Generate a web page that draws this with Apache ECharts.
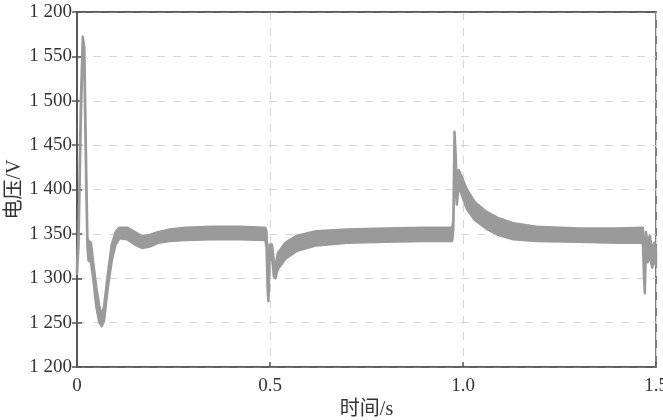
<!DOCTYPE html>
<html>
<head>
<meta charset="utf-8">
<script src="https://cdn.jsdelivr.net/npm/echarts@6/dist/echarts.min.js"></script>
<style>
html,body{margin:0;padding:0;background:#fff;}
#chart{width:663px;height:420px;}
</style>
</head>
<body>
<div id="chart"></div>
<script>
// time (s)
var time = [0.000,0.004,0.010,0.015,0.019,0.024,0.027,0.030,0.036,0.042,0.050,0.058,0.064,0.070,0.080,0.090,0.100,0.110,0.130,0.150,0.170,0.190,0.210,0.240,0.280,0.350,0.420,0.488,0.491,0.494,0.496,0.499,0.505,0.510,0.514,0.520,0.540,0.570,0.620,0.700,0.800,0.900,0.972,0.975,0.978,0.981,0.984,0.989,0.996,1.010,1.030,1.060,1.090,1.130,1.190,1.300,1.400,1.466,1.469,1.471,1.474,1.478,1.484,1.490,1.496,1.500];
// lower envelope of voltage band (V)
var vLow = [1305,1338,1480,1562,1540,1400,1335,1320,1318,1300,1268,1250,1246,1252,1290,1320,1338,1345,1344,1338,1334,1336,1340,1342,1343,1344,1344,1343,1335,1285,1274,1320,1325,1302,1300,1310,1322,1331,1337,1340,1341,1342,1342,1355,1445,1400,1383,1405,1395,1378,1366,1356,1349,1344,1342,1341,1340,1340,1300,1283,1335,1318,1325,1312,1320,1315];
// upper envelope of voltage band (V)
var vHigh = [1312,1350,1500,1572,1560,1420,1345,1342,1340,1318,1290,1268,1258,1268,1305,1338,1352,1357,1357,1352,1347,1349,1352,1355,1357,1358,1358,1357,1352,1310,1282,1338,1338,1320,1312,1328,1340,1348,1353,1355,1356,1357,1357,1365,1465,1440,1395,1422,1415,1400,1386,1375,1368,1362,1358,1356,1356,1357,1330,1292,1352,1340,1348,1332,1340,1330];
// y tick labels as printed
var yTickValues = [1200,1250,1300,1350,1400,1450,1500,1550,1600];
var yTickLabels = ['1 200','1 250','1 300','1 350','1 400','1 450','1 500','1 550','1 200'];
var xTickLabels = {'0':'0','0.5':'0.5','1':'1.0','1.5':'1.5'};

var bandData = time.map(function(t,i){return [t, vLow[i], vHigh[i]];});

var font = '"Liberation Serif","Noto Sans CJK SC",serif';
var chart = echarts.init(document.getElementById('chart'));
chart.setOption({
  animation:false,
  backgroundColor:'#fff',
  grid:{left:77,right:7,top:12,bottom:53,show:true,borderColor:'#555',borderWidth:1.5,
        outerBoundsMode:'none',containLabel:false},
  xAxis:[{
    type:'value',min:0,max:1.5,interval:0.5,
    name:'时间/s',nameLocation:'middle',nameGap:33,nameMoveOverlap:false,
    nameTextStyle:{fontFamily:font,fontSize:20,color:'#333'},
    axisLine:{show:true,lineStyle:{color:'#555',width:1.5}},
    axisTick:{show:true,inside:true,length:5,lineStyle:{color:'#555',width:1.5}},
    axisLabel:{fontFamily:font,fontSize:19,color:'#333',margin:10,
      formatter:function(v){return xTickLabels[String(v)];}},
    splitLine:{show:true,lineStyle:{color:'#d6d6d6',type:[8,8],width:1}}
  },{
    type:'value',min:0,max:1.5,interval:0.5,position:'top',
    axisLine:{show:true,lineStyle:{color:'#555',width:1.5}},
    axisTick:{show:false},axisLabel:{show:false},splitLine:{show:false}
  }],
  yAxis:[{
    type:'value',min:1200,max:1600,interval:50,
    name:'电压/V',nameLocation:'middle',nameGap:52,nameRotate:90,nameMoveOverlap:false,
    nameTextStyle:{fontFamily:font,fontSize:20,color:'#333'},
    axisLine:{show:true,lineStyle:{color:'#555',width:1.5}},
    axisTick:{show:true,inside:true,length:5,lineStyle:{color:'#555',width:1.5}},
    axisLabel:{fontFamily:font,fontSize:19,color:'#333',margin:5,
      formatter:function(v){var i=yTickValues.indexOf(v);return i>=0?yTickLabels[i]:'';}},
    splitLine:{show:true,lineStyle:{color:'#d6d6d6',type:[8,8],width:1}}
  },{
    type:'value',min:1200,max:1600,interval:50,position:'right',
    axisLine:{show:true,lineStyle:{color:'#555',width:1.5}},
    axisTick:{show:true,inside:true,length:5,lineStyle:{color:'#555',width:1.5}},
    axisLabel:{show:false},splitLine:{show:false}
  }],
  series:[{
    type:'custom',data:bandData,encode:{x:0,y:[1,2]},z:3,
    renderItem:function(params, api){
      if(params.dataIndex !== 0) return null;
      var pts = [];
      for(var i=0;i<bandData.length;i++){ pts.push(api.coord([bandData[i][0], bandData[i][2]])); }
      for(var j=bandData.length-1;j>=0;j--){ pts.push(api.coord([bandData[j][0], bandData[j][1]])); }
      return {type:'polygon',shape:{points:pts},
        style:{fill:'#9a9a9a',stroke:'#9a9a9a',lineWidth:2.5,lineJoin:'round'}};
    }
  }]
});
</script>
</body>
</html>
